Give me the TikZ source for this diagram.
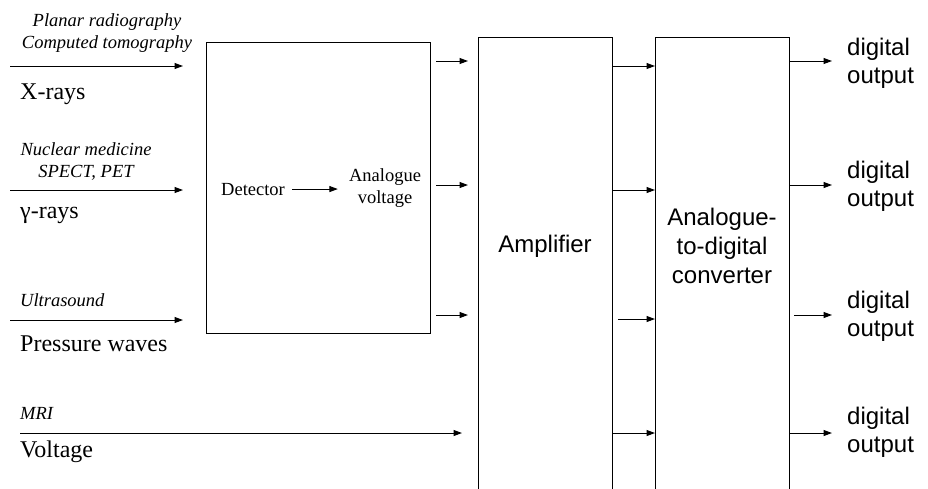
\documentclass[tikz,border=0pt]{standalone}
\usepackage{fontspec}
\setmainfont{Liberation Serif}
\newfontfamily\arialf{Liberation Sans}
\usetikzlibrary{arrows.meta,calc}
\begin{document}
\begin{tikzpicture}[x=1pt,y=-1pt,
 box/.style={draw,line width=1.1pt,inner sep=0,anchor=north west},
 arr/.style={line width=1pt,-{Triangle[length=8.5pt,width=6pt]}},
 ital/.style={font=\fontsize{18.5}{22}\selectfont\itshape,align=center,inner sep=0},
 big/.style={font=\fontsize{24}{28}\selectfont,inner sep=0,anchor=base west},
 small/.style={font=\fontsize{18.5}{22}\selectfont,inner sep=0,align=center},
 sans/.style={font=\fontsize{24}{29}\selectfont\arialf,inner sep=0,align=center},
 outlbl/.style={font=\fontsize{24}{28}\selectfont\arialf,inner sep=0,align=left,anchor=base west},
]
\clip (0,0) rectangle (928,488);
% boxes
\node[box,minimum width=224pt,minimum height=291pt] (det) at (206,42) {};
\node[box,minimum width=134pt,minimum height=480pt] (amp) at (478,37) {};
\node[box,minimum width=134pt,minimum height=480pt] (adc) at (655,37) {};
% box texts
\node[small,anchor=base west] (dt) at (221,195) {Detector};
\node[small] (av) at (385,188) {Analogue\\voltage};
\draw[arr] ([xshift=7pt]dt.east) -- ($(av.west|-dt.east)+(-11,0)$);
\node[sans,anchor=base] (ampt) at (545,252) {Amplifier};
\node[sans,anchor=base] (adct) at (722,283) {Analogue-\\to-digital\\converter};
% input labels
\node[ital,anchor=base] (pl) at (107,48) {Planar radiography\\Computed tomography};
\node[big] (xr) at (20,99) {X-rays};
\node[ital,anchor=base] (nm) at (86,177) {Nuclear medicine\\SPECT, PET};
\node[big] (gr) at (20,218) {γ-rays};
\node[ital,anchor=base west] (us) at (20,306) {Ultrasound};
\node[big] (pw) at (20,351) {Pressure waves};
\node[ital,anchor=base west] (mri) at (20,419) {MRI};
\node[big] (vo) at (20,457) {Voltage};
% input arrows
\coordinate (s1) at (10,66);
\coordinate (s2) at (10,190);
\coordinate (s3) at (10,320);
\coordinate (s4) at (20,433);
\draw[arr] (s1) -- ($(det.west|-s1)+(-23,0)$);
\draw[arr] (s2) -- ($(det.west|-s2)+(-23,0)$);
\draw[arr] (s3) -- ($(det.west|-s3)+(-23,0)$);
\draw[arr] (s4) -- ($(amp.west|-s4)+(-16,0)$);
% detector -> amplifier
\draw[arr] ($(det.east|-0,61)+(5,0)$) -- ($(amp.west|-0,61)+(-10,0)$);
\draw[arr] ($(det.east|-0,185)+(5,0)$) -- ($(amp.west|-0,185)+(-10,0)$);
\draw[arr] ($(det.east|-0,315)+(5,0)$) -- ($(amp.west|-0,315)+(-10,0)$);
% amplifier -> adc
\draw[arr] (amp.east|-0,66) -- (adc.west|-0,66);
\draw[arr] (amp.east|-0,190) -- (adc.west|-0,190);
\draw[arr] ($(amp.east|-0,319)+(5,0)$) -- (adc.west|-0,319);
\draw[arr] (amp.east|-0,433) -- (adc.west|-0,433);
% outputs
\node[outlbl] (o1) at (847,83) {digital\\output};
\node[outlbl] (o2) at (847,206) {digital\\output};
\node[outlbl] (o3) at (847,336) {digital\\output};
\node[outlbl] (o4) at (847,452) {digital\\output};
\draw[arr] (adc.east|-0,61) -- ($(o1.west|-0,61)+(-15,0)$);
\draw[arr] (adc.east|-0,185) -- ($(o2.west|-0,185)+(-15,0)$);
\draw[arr] ($(adc.east|-0,315)+(4,0)$) -- ($(o3.west|-0,315)+(-15,0)$);
\draw[arr] (adc.east|-0,433) -- ($(o4.west|-0,433)+(-15,0)$);
\end{tikzpicture}
\end{document}
